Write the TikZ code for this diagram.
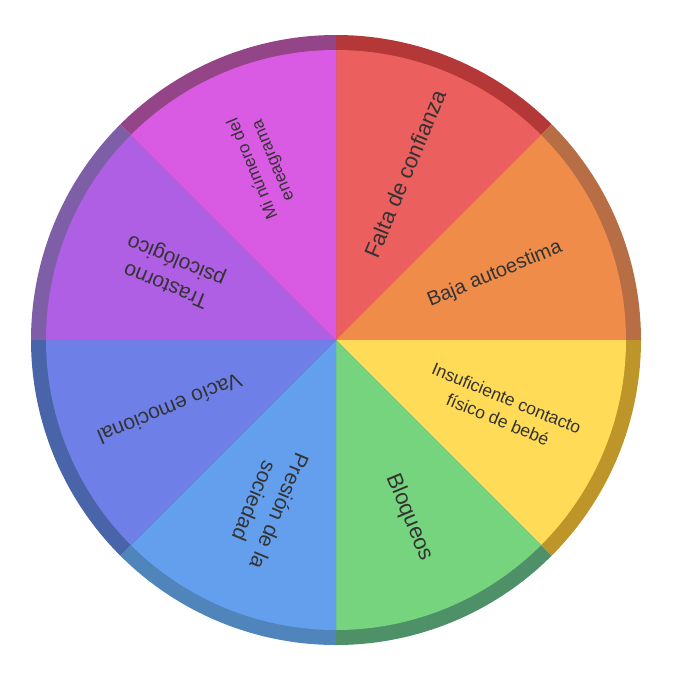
\documentclass[tikz,border=0pt]{standalone}
\usepackage{fontspec}
\setmainfont{Liberation Sans}
\usetikzlibrary{calc}
\definecolor{c1}{HTML}{EB5F5F}\definecolor{r1}{HTML}{B53838}
\definecolor{c2}{HTML}{EF8C4A}\definecolor{r2}{HTML}{B86E44}
\definecolor{c3}{HTML}{FFDB58}\definecolor{r3}{HTML}{BD9528}
\definecolor{c4}{HTML}{76D47E}\definecolor{r4}{HTML}{4E9168}
\definecolor{c5}{HTML}{649FEE}\definecolor{r5}{HTML}{5085BB}
\definecolor{c6}{HTML}{6E80E8}\definecolor{r6}{HTML}{4A64AA}
\definecolor{c7}{HTML}{AE5FE3}\definecolor{r7}{HTML}{7F5EA8}
\definecolor{c8}{HTML}{D95BE3}\definecolor{r8}{HTML}{944587}
\definecolor{txt}{HTML}{333333}
\tikzset{lbl/.style={text=txt,align=center,inner sep=0pt}}
\begin{document}
\begin{tikzpicture}[x=1pt,y=1pt]
\useasboundingbox (0,0) rectangle (674,-672);
\coordinate (O) at (336,-340);
\foreach \i/\a in {1/90,2/45,3/0,4/-45,5/-90,6/-135,7/-180,8/-225}{
  \fill[r\i] (O) -- ++(\a:305) arc[start angle=\a,end angle=\a-45,radius=305] -- cycle;
  \fill[c\i] (O) -- ++(\a:290) arc[start angle=\a,end angle=\a-45,radius=290] -- cycle;
}
\node[lbl,font=\fontsize{22}{26}\selectfont,rotate=67.5] (n1) at ($(O)+(67.5:180)$) {Falta de confianza};
\node[lbl,font=\fontsize{20}{24}\selectfont,rotate=22.5] (n2) at ($(O)+(22.5:172)$) {Baja autoestima};
\node[lbl,font=\fontsize{17.5}{23}\selectfont,rotate=-22.5] (n3) at ($(O)+(-22.5:180)$) {Insuficiente contacto\\físico de bebé};
\node[lbl,font=\fontsize{22}{26}\selectfont,rotate=-67.5] (n4) at ($(O)+(-67.5:192)$) {Bloqueos};
\node[lbl,font=\fontsize{21}{27}\selectfont,rotate=-112.5] (n5) at ($(O)+(-112.5:180)$) {Presión de la\\sociedad};
\node[lbl,font=\fontsize{21}{25}\selectfont,rotate=-157.5] (n6) at ($(O)+(-157.5:180)$) {Vacío emocional};
\node[lbl,font=\fontsize{21}{27}\selectfont,rotate=157.5] (n7) at ($(O)+(157.5:178)$) {Trastorno\\psicológico};
\node[lbl,font=\fontsize{17}{22}\selectfont,rotate=112.5] (n8) at ($(O)+(112.5:190)$) {Mi número del\\eneagrama};
\end{tikzpicture}
\end{document}
